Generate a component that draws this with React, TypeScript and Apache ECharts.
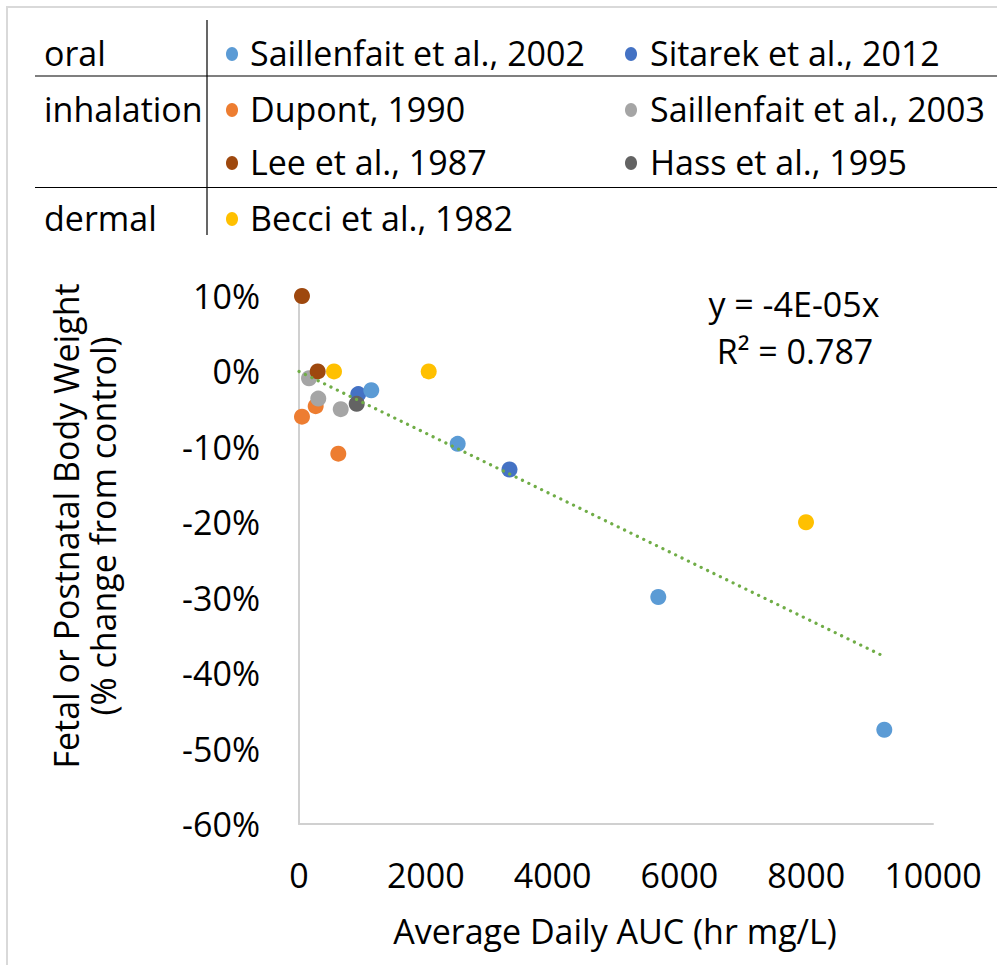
import React, { useEffect, useRef } from "react";
import * as echarts from "echarts";

// ---- data ----
const seriesNames = [
  "Dupont, 1990",
  "Saillenfait et al., 2003",
  "Lee et al., 1987",
  "Sitarek et al., 2012",
  "Hass et al., 1995",
  "Saillenfait et al., 2002",
  "Becci et al., 1982",
];
const seriesColors = ["#ED7D31", "#A5A5A5", "#9E480E", "#4472C4", "#636363", "#5B9BD5", "#FFC000"];

const dupont = [[47, -0.06], [263, -0.046], [620, -0.109]];
const saillenfait2003 = [[158, -0.009], [304, -0.036], [658, -0.05]];
const lee = [[47, 0.1], [295, 0.0]];
const sitarek = [[935, -0.03], [3320, -0.13]];
const hass = [[910, -0.043]];
const saillenfait2002 = [[1140, -0.025], [2503, -0.096], [5667, -0.299], [9232, -0.475]];
const becci = [[552, 0.0], [2046, 0.0], [7997, -0.2]];
const seriesData = [dupont, saillenfait2003, lee, sitarek, hass, saillenfait2002, becci];

const trendLine = [[0, 0], [9232, -0.378]];
const trendColor = "#70AD47";
const equationLines = ["y = -4E-05x", "R² = 0.787"];

const xTickMin = 0;
const xTickMax = 10000;
const xTickStep = 2000;
const yTickMin = -0.6;
const yTickMax = 0.1;
const yTickStep = 0.1;

const xTitle = "Average Daily AUC (hr mg/L)";
const yTitleLines = ["Fetal or Postnatal Body Weight", "(% change from control)"];

// legend table rows: route label, column-1 series, column-2 series
const legendRows: [string, string, string | null][] = [
  ["oral", "Saillenfait et al., 2002", "Sitarek et al., 2012"],
  ["inhalation", "Dupont, 1990", "Saillenfait et al., 2003"],
  ["", "Lee et al., 1987", "Hass et al., 1995"],
  ["dermal", "Becci et al., 1982", null],
];

const FONT = "'Open Sans', 'Noto Sans', sans-serif";
const FS = 34;

export default function App() {
  const ref = useRef<HTMLDivElement>(null);

  useEffect(() => {
    if (!ref.current) return;
    const chart = echarts.init(ref.current, undefined, { renderer: "svg" });

    const colorOf = (name: string) => seriesColors[seriesNames.indexOf(name)];
    const txt = (text: string, x: number, y: number, align: string, rotation = 0) => ({
      type: "text",
      x,
      y,
      rotation,
      style: { text, font: `${FS}px ${FONT}`, fill: "#000", textAlign: align, textVerticalAlign: "middle" },
    });

    const rowY = [53, 109, 162, 218];
    const graphics: any[] = [];
    // chart border (light gray)
    graphics.push({
      type: "polyline",
      shape: { points: [[7, 965], [7, 7], [997, 7]] },
      style: { stroke: "#D9D9D9", lineWidth: 2, fill: null },
    });
    // table lines
    graphics.push({ type: "line", shape: { x1: 207, y1: 20, x2: 207, y2: 235 }, style: { stroke: "#000", lineWidth: 1.2 } });
    graphics.push({ type: "line", shape: { x1: 35, y1: 76, x2: 997, y2: 76 }, style: { stroke: "#000", lineWidth: 1.2 } });
    graphics.push({ type: "line", shape: { x1: 35, y1: 187.5, x2: 997, y2: 187.5 }, style: { stroke: "#000", lineWidth: 1.2 } });
    legendRows.forEach((row, i) => {
      const y = rowY[i];
      if (row[0]) graphics.push(txt(row[0], 44, y, "left"));
      [row[1], row[2]].forEach((name, c) => {
        if (!name) return;
        const dotX = c === 0 ? 232 : 631;
        const textX = c === 0 ? 250 : 650;
        graphics.push({ type: "ellipse", shape: { cx: dotX, cy: y + 1, rx: 6, ry: 7 }, style: { fill: colorOf(name) } });
        graphics.push(txt(name, textX, y, "left"));
      });
    });
    // equation
    graphics.push(txt(equationLines[0], 794, 304, "center"));
    graphics.push(txt(equationLines[1], 795, 351, "center"));
    // axis titles
    graphics.push(txt(xTitle, 615, 931, "center"));
    graphics.push(txt(yTitleLines[0], 66, 526, "center", Math.PI / 2));
    graphics.push(txt(yTitleLines[1], 103, 526, "center", Math.PI / 2));

    const scatterSeries = seriesNames.map((name, i) => ({
      name,
      type: "scatter",
      data: seriesData[i],
      symbol: "circle",
      symbolSize: 16,
      itemStyle: { color: seriesColors[i], opacity: 1 },
      z: 2 + i,
    }));

    chart.setOption({
      animation: false,
      backgroundColor: "#fff",
      grid: { left: 299, top: 296, width: 634, height: 528, containLabel: false },
      xAxis: {
        type: "value",
        min: xTickMin,
        max: xTickMax,
        interval: xTickStep,
        axisLine: { show: true, onZero: false, lineStyle: { color: "#D0D0D0", width: 2 } },
        axisTick: { show: false },
        splitLine: { show: false },
        axisLabel: {
          fontSize: FS,
          fontFamily: FONT,
          color: "#000",
          margin: 34,
          formatter: (v: number) => String(v),
        },
      },
      yAxis: {
        type: "value",
        min: yTickMin,
        max: yTickMax,
        interval: yTickStep,
        axisLine: { show: true, onZero: false, lineStyle: { color: "#D0D0D0", width: 2 } },
        axisTick: { show: false },
        splitLine: { show: false },
        axisLabel: {
          fontSize: FS,
          fontFamily: FONT,
          color: "#000",
          margin: 39,
          formatter: (v: number) => `${Math.round(v * 100)}%`,
        },
      },
      series: [
        ...scatterSeries,
        {
          name: "trend",
          type: "line",
          data: trendLine,
          symbol: "none",
          lineStyle: { color: trendColor, width: 3.2, type: [0.1, 7], cap: "round" },
          z: 20,
        },
      ],
      graphic: graphics,
    });

    return () => chart.dispose();
  }, []);

  return (
    <div
      ref={ref}
      style={{ position: "absolute", left: 0, top: 0, width: 997, height: 965, background: "#fff" }}
    />
  );
}
